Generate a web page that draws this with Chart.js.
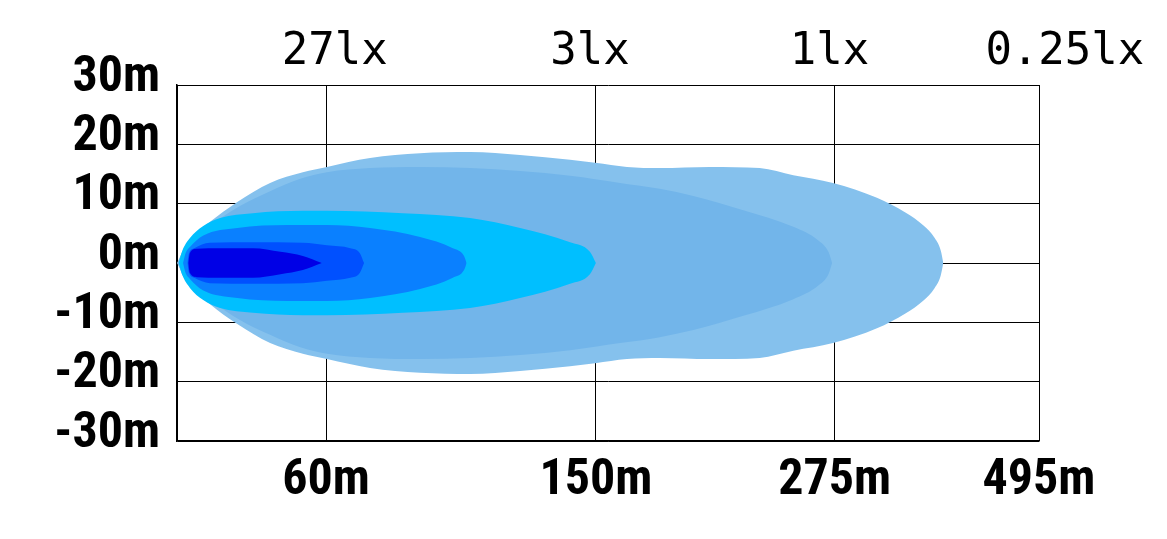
<!DOCTYPE html>
<html>
<head>
<meta charset="utf-8">
<script src="https://cdn.jsdelivr.net/npm/chart.js@4.4.1/dist/chart.umd.min.js"></script>
<style>
  html, body { margin: 0; padding: 0; background: #fff; }
  #wrap { width: 1167px; height: 539px; }
</style>
</head>
<body>
<div id="wrap"><canvas id="chart"></canvas></div>
<script>
// grid positions along the beam (axis units 0..100) and their labels
const xTicks = [0, 17.3, 48.6, 76.3, 100];
const distanceLabels = ['', '60m', '150m', '275m', '495m'];
// lux captions sit a little off the grid lines
const luxTicks = [18.3, 47.9, 75.7, 103];
const luxLabels = ['27lx', '3lx', '1lx', '0.25lx'];
const yMin = -30, yMax = 30, yStep = 10;

// upper half of each beam contour [x, y(m)], mirrored below the axis
const beam025lx = [[0,0],[1.5,3.9],[3.8,6.9],[7,10.3],[10.8,13.5],[14.6,15.3],[17.4,16.2],
  [22.4,17.7],[28.2,18.5],[34,18.7],[39.8,18.2],[45.6,17.4],[48.5,16.9],[52.2,16.2],
  [56,16],[61.8,16.2],[67.6,16],[71.5,14.8],[76.1,13.5],[81.2,11],[84.5,8.5],[86.6,6.3],
  [87.9,4.2],[88.6,2.1],[88.9,0]];
const beam1lx = [[0.1,0],[0.7,2.2],[1.5,3.2],[3.8,6.2],[7.3,9.6],[10.8,12.1],[14.3,14.2],
  [17.4,15.3],[22.4,16],[28.2,16.2],[34,16],[39.8,15.5],[45.6,14.7],[51.4,13.5],
  [56,12.5],[59.9,11.3],[65.7,8.9],[71.5,6.1],[74.4,3.8],[75.6,1.8],[76,0]];
const beam3lx = [[0.2,0],[0.6,2],[1.5,4.2],[3,6.2],[5,7.6],[8.8,8.4],[14.6,8.8],[17.4,8.8],
  [26.2,8.4],[34,7.6],[39.8,5.9],[45.6,3.5],[47.9,1.9],[48.6,0]];
const beam10lx = [[0.7,0],[1,1.7],[1.5,2.7],[3,4.6],[7,5.9],[12.8,6.4],[17.4,6.4],
  [22.4,5.9],[28.2,4.4],[32,2.5],[33.3,1.2],[33.6,0]];
const beam27lx = [[1.2,0],[1.4,1.7],[2,2.5],[3.8,3.4],[8.8,3.5],[14.6,3.4],[17.4,3],
  [20.1,2.5],[21.2,1.7],[21.7,0]];
const beamPeak = [[1.3,0],[1.5,1.7],[2.3,2.4],[5,2.5],[8.8,2.5],[12,1.9],[14.6,1.2],[16.8,0]];

const layers = [
  { pts: beamPeak,  color: '#0000e6' },
  { pts: beam27lx,  color: '#0050ff' },
  { pts: beam10lx,  color: '#0a80ff' },
  { pts: beam3lx,   color: '#00bfff' },
  { pts: beam1lx,   color: '#72b5ea' },
  { pts: beam025lx, color: '#85c1ed' }
];

const datasets = [];
layers.forEach(l => {
  [1, -1].forEach(sign => {
    datasets.push({
      data: l.pts.map(p => ({ x: p[0], y: sign * p[1] })),
      borderWidth: 0,
      pointRadius: 0,
      backgroundColor: l.color,
      fill: 'origin',
      cubicInterpolationMode: 'monotone'
    });
  });
});

const axisFont = { family: "'Roboto Condensed', 'DejaVu Sans Condensed', sans-serif", size: 50, weight: 'bold' };
const luxFont = { family: "'DejaVu Sans Mono', monospace", size: 44 };

new Chart(document.getElementById('chart'), {
  type: 'line',
  data: { datasets },
  options: {
    responsive: true,
    maintainAspectRatio: false,
    animation: false,
    layout: { padding: { right: 128 } },
    plugins: { legend: { display: false }, tooltip: { enabled: false } },
    scales: {
      x: {
        type: 'linear', position: 'bottom', min: 0, max: 100, z: 1,
        afterBuildTicks: s => { s.ticks = xTicks.map(v => ({ value: v })); },
        afterFit: s => { s.height = 98; },
        grid: { color: '#000', lineWidth: 1, drawTicks: false },
        border: { color: '#000', width: 1.5 },
        ticks: {
          autoSkip: false, maxRotation: 0, padding: 10, color: '#000', font: axisFont,
          callback: (v, i) => distanceLabels[i]
        }
      },
      x2: {
        type: 'linear', position: 'top', min: 0, max: 100,
        afterBuildTicks: s => { s.ticks = luxTicks.map(v => ({ value: v })); },
        afterFit: s => { s.height = 85; },
        grid: { display: false, drawTicks: false },
        border: { display: false },
        ticks: {
          autoSkip: false, maxRotation: 0, padding: 6, color: '#000', font: luxFont,
          callback: (v, i) => luxLabels[i]
        }
      },
      y: {
        min: yMin, max: yMax, z: 1,
        afterFit: s => { s.width = 177; },
        grid: { color: '#000', lineWidth: 1, drawTicks: false },
        border: { color: '#000', width: 1.5 },
        ticks: {
          stepSize: yStep, autoSkip: false, padding: 17, labelOffset: -7, color: '#000', font: axisFont,
          callback: v => v + 'm'
        }
      }
    }
  }
});
</script>
</body>
</html>
